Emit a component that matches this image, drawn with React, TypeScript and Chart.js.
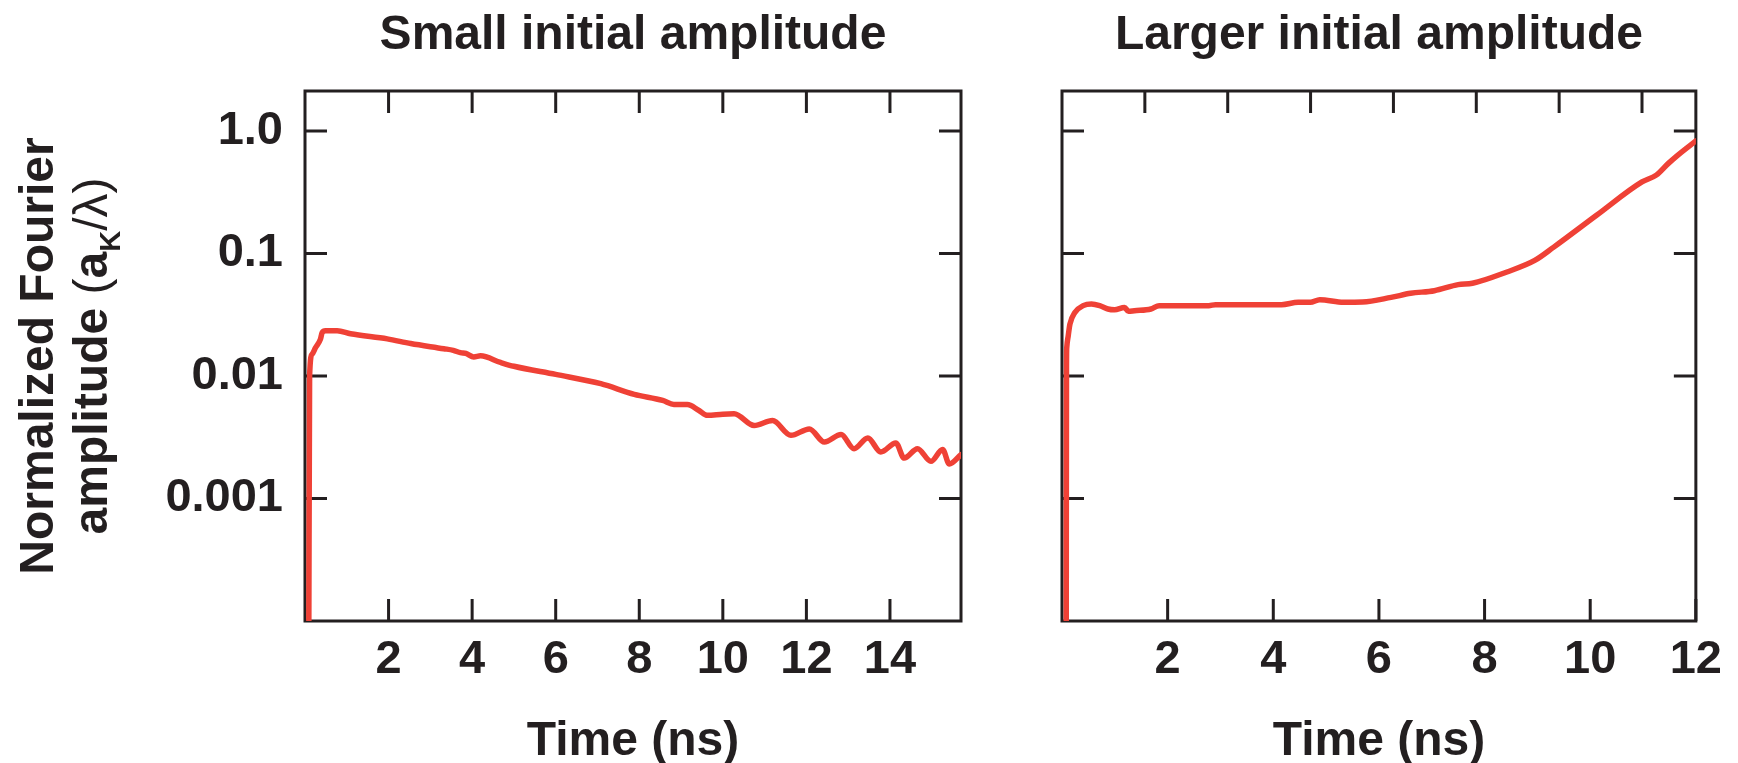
import React, { useEffect, useRef } from 'react';
import { Chart, registerables } from 'chart.js';

Chart.register(...registerables);

// ---------- data ----------
const smallTime = [0.09, 0.11, 0.17, 0.25, 0.37, 0.41, 0.49, 0.77, 1.09, 1.97, 2.53, 3.32, 3.55, 3.72, 3.85, 4.04, 4.2, 4.68, 5.0, 6.0, 7.08, 7.88, 8.56, 8.83, 9.15, 9.43, 9.63, 10.0, 10.27, 10.75, 11.19, 11.63, 12.07, 12.43, 12.83, 13.14, 13.47, 13.78, 14.14, 14.34, 14.66, 14.98, 15.26, 15.42, 15.7];
const smallAmp = [0.00005, 0.01, 0.0151, 0.017, 0.02, 0.0226, 0.0234, 0.0234, 0.0221, 0.0201, 0.0184, 0.0167, 0.0162, 0.0155, 0.0153, 0.0143, 0.0146, 0.0129, 0.012, 0.0103, 0.00865, 0.00708, 0.00632, 0.00586, 0.00586, 0.00523, 0.00477, 0.00488, 0.00491, 0.00394, 0.00433, 0.00328, 0.0037, 0.00289, 0.00333, 0.00255, 0.00312, 0.0024, 0.00284, 0.00214, 0.00255, 0.00201, 0.00251, 0.00191, 0.00228];

const largeTime = [0.08, 0.085, 0.09, 0.118, 0.15, 0.244, 0.4, 0.558, 0.714, 0.87, 0.995, 1.183, 1.258, 1.371, 1.684, 1.84, 2.78, 2.905, 4.156, 4.47, 4.7, 4.88, 5.33, 5.69, 6.23, 6.6, 7.05, 7.5, 7.77, 8.41, 8.95, 9.31, 10.12, 10.98, 11.25, 11.48, 11.66, 12.0];
const largeAmp = [0.00005, 0.012, 0.0171, 0.0213, 0.0265, 0.033, 0.0375, 0.0387, 0.0375, 0.0352, 0.0347, 0.0363, 0.0337, 0.0341, 0.0352, 0.0375, 0.0375, 0.0382, 0.0382, 0.0399, 0.0399, 0.042, 0.0399, 0.0401, 0.0438, 0.0473, 0.0497, 0.0557, 0.0571, 0.0703, 0.0877, 0.1127, 0.205, 0.384, 0.436, 0.544, 0.636, 0.83];

const smallTimeTicks = [2, 4, 6, 8, 10, 12, 14];
const largeTimeTicks = [2, 4, 6, 8, 10, 12];
const largeTopTicks = [2, 4, 6, 8, 10, 12, 14];
const ampTicks = [0.001, 0.01, 0.1, 1];
const ampTickLabels = ['0.001', '0.01', '0.1', '1.0'];
const panelTitles = ['Small initial amplitude', 'Larger initial amplitude'];
const xTitle = 'Time (ns)';
const yTitleLine1 = 'Normalized Fourier';
const yTitleLine2 = ['amplitude ', '(', 'a', 'K', '/\u03bb', ')'];

// ---------- styles ----------
const INK = '#231f20';
const RED = '#ef4136';
const FAMILY = '"Liberation Sans", Arial, Helvetica, sans-serif';

const frameTicks = {
  id: 'frameTicks',
  beforeDatasetsDraw(chart: any) {
    const { ctx, chartArea: a, scales } = chart;
    const L = 22;
    const xb = scales.x;
    const xt = scales.xTop || scales.x;
    const y = scales.y;
    ctx.save();
    ctx.strokeStyle = INK;
    ctx.lineWidth = 3;
    ctx.beginPath();
    xb.ticks.forEach((t: any) => {
      const p = xb.getPixelForValue(t.value);
      ctx.moveTo(p, a.bottom);
      ctx.lineTo(p, a.bottom - L);
    });
    xt.ticks.forEach((t: any) => {
      const p = xt.getPixelForValue(t.value);
      ctx.moveTo(p, a.top);
      ctx.lineTo(p, a.top + L);
    });
    y.ticks.forEach((t: any) => {
      const p = y.getPixelForValue(t.value);
      ctx.moveTo(a.left, p);
      ctx.lineTo(a.left + L, p);
      ctx.moveTo(a.right, p);
      ctx.lineTo(a.right - L, p);
    });
    ctx.stroke();
    ctx.strokeRect(a.left, a.top, a.right - a.left, a.bottom - a.top);
    ctx.restore();
  },
};

const yTitlePlugin = {
  id: 'yTitle',
  afterDraw(chart: any) {
    const { ctx, chartArea: a } = chart;
    const cy = (a.top + a.bottom) / 2;
    const bold = `bold 48px ${FAMILY}`;
    const normal = `normal 48px ${FAMILY}`;
    const sub = `bold 29px ${FAMILY}`;
    ctx.save();
    ctx.fillStyle = INK;
    ctx.textBaseline = 'alphabetic';
    ctx.translate(53, cy);
    ctx.rotate(-Math.PI / 2);
    ctx.font = bold;
    ctx.textAlign = 'center';
    ctx.fillText(yTitleLine1, 0, 0);
    ctx.restore();

    const fonts = [bold, normal, bold, sub, normal, normal];
    const dys = [0, 0, 0, 13, 0, 0];
    ctx.save();
    ctx.fillStyle = INK;
    ctx.textBaseline = 'alphabetic';
    ctx.textAlign = 'left';
    ctx.translate(107, cy);
    ctx.rotate(-Math.PI / 2);
    let total = 0;
    const widths = yTitleLine2.map((s, i) => {
      ctx.font = fonts[i];
      const w = ctx.measureText(s).width;
      total += w;
      return w;
    });
    let x = -total / 2;
    yTitleLine2.forEach((s, i) => {
      ctx.font = fonts[i];
      ctx.fillText(s, x, dys[i]);
      x += widths[i];
    });
    ctx.restore();
  },
};

function makeConfig(
  time: number[],
  amp: number[],
  title: string,
  xMax: number,
  xTicks: number[],
  yWidth: number,
  rightPad: number,
  showYLabels: boolean,
  topTicks: number[] | null,
  topMax: number
): any {
  const scales: any = {
    x: {
      type: 'linear',
      position: 'bottom',
      min: 0,
      max: xMax,
      afterBuildTicks: (s: any) => {
        s.ticks = xTicks.map((v) => ({ value: v }));
      },
      afterFit: (s: any) => {
        s.height = 142;
      },
      ticks: {
        color: INK,
        font: { family: FAMILY, size: 47, weight: 'bold', lineHeight: 1 },
        padding: 16,
        maxRotation: 0,
        autoSkip: false,
        callback: (v: any) => String(v),
      },
      grid: { display: false, drawTicks: false },
      border: { display: false },
      title: {
        display: true,
        text: xTitle,
        color: INK,
        font: { family: FAMILY, size: 48, weight: 'bold', lineHeight: 0.9 },
        padding: { top: 0, bottom: 0 },
      },
    },
    y: {
      type: 'logarithmic',
      position: 'left',
      min: 0.0001,
      max: 2.12,
      afterBuildTicks: (s: any) => {
        s.ticks = ampTicks.map((v) => ({ value: v }));
      },
      afterFit: (s: any) => {
        s.width = yWidth;
      },
      ticks: {
        display: showYLabels,
        color: INK,
        font: { family: FAMILY, size: 47, weight: 'bold', lineHeight: 1 },
        padding: 22,
        autoSkip: false,
        callback: (_v: any, i: number) => ampTickLabels[i],
      },
      grid: { display: false, drawTicks: false },
      border: { display: false },
      title: { display: false },
    },
  };
  if (topTicks) {
    scales.xTop = {
      type: 'linear',
      position: 'top',
      min: 0,
      max: topMax,
      afterBuildTicks: (s: any) => {
        s.ticks = topTicks.map((v) => ({ value: v }));
      },
      afterFit: (s: any) => {
        s.height = 0;
      },
      ticks: { display: false },
      grid: { display: false, drawTicks: false },
      border: { display: false },
    };
  }
  return {
    type: 'line',
    data: {
      datasets: [
        {
          data: time.map((t, i) => ({ x: t, y: amp[i] })),
          borderColor: RED,
          borderWidth: 5.5,
          pointRadius: 0,
          fill: false,
          cubicInterpolationMode: 'monotone',
          borderJoinStyle: 'round',
          borderCapStyle: 'round',
        },
      ],
    },
    options: {
      animation: false,
      responsive: false,
      devicePixelRatio: 1,
      events: [],
      layout: { padding: { left: 0, right: rightPad, top: 0, bottom: 0 } },
      plugins: {
        legend: { display: false },
        tooltip: { enabled: false },
        title: {
          display: true,
          text: title,
          color: INK,
          fullSize: false,
          font: { family: FAMILY, size: 48, weight: 'bold', lineHeight: 1 },
          padding: { top: 12, bottom: 31 },
        },
      },
      scales,
    },
  };
}

export default function App() {
  const leftRef = useRef<HTMLCanvasElement>(null);
  const rightRef = useRef<HTMLCanvasElement>(null);

  useEffect(() => {
    Chart.defaults.font.family = FAMILY;
    const c1 = new Chart(leftRef.current as HTMLCanvasElement, {
      ...makeConfig(smallTime, smallAmp, panelTitles[0], 15.7, smallTimeTicks, 305, 29, true, null, 0),
      plugins: [frameTicks, yTitlePlugin],
    });
    const c2 = new Chart(rightRef.current as HTMLCanvasElement, {
      ...makeConfig(largeTime, largeAmp, panelTitles[1], 12, largeTimeTicks, 72, 37, false, largeTopTicks, 15.3),
      plugins: [frameTicks],
    });
    return () => {
      c1.destroy();
      c2.destroy();
    };
  }, []);

  return (
    <div style={{ position: 'fixed', left: 0, top: 0, width: 1738, height: 763, background: '#fff' }}>
      <canvas ref={leftRef} width={990} height={763} style={{ position: 'absolute', left: 0, top: 0, width: 990, height: 763 }} />
      <canvas ref={rightRef} width={748} height={763} style={{ position: 'absolute', left: 990, top: 0, width: 748, height: 763 }} />
    </div>
  );
}
